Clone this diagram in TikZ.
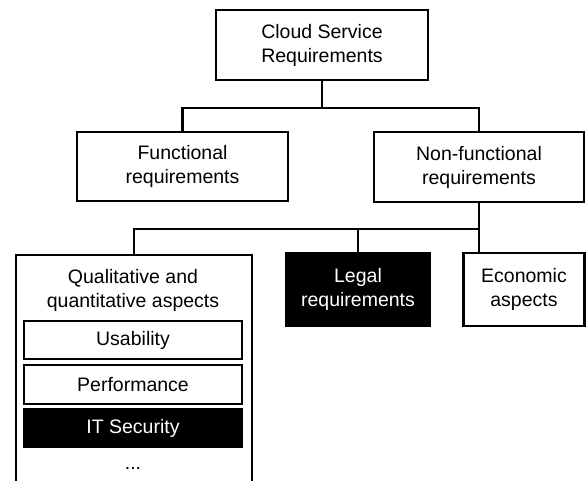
\documentclass[tikz,border=0pt]{standalone}
\usepackage{fontspec}
\setmainfont{Liberation Sans}
\begin{document}
\begin{tikzpicture}[x=1pt,y=-1pt,
  every node/.style={font=\fontsize{19.5}{24}\selectfont, align=center, inner sep=0pt},
  wbox/.style={draw=black, line width=2.2pt, fill=white},
  bbox/.style={draw=black, line width=2.2pt, fill=black, text=white},
  conn/.style={line width=2.2pt}]
\useasboundingbox (0,0) rectangle (586,481);
\fill[white] (0,0) rectangle (586,481);
\node[wbox, minimum width=212pt, minimum height=70pt] (cloud) at (322,45) {Cloud Service\\Requirements};
\node[wbox, minimum width=211pt, minimum height=69pt] (func) at (182.5,166.5) {Functional\\requirements};
\node[wbox, minimum width=210pt, minimum height=70pt] (nonf) at (479,167) {Non-functional\\requirements};
\node[wbox, anchor=north west, minimum width=236pt, minimum height=250pt] (qual) at (15,254) {};
\node (qualtext) at (133,290) {Qualitative and\\quantitative aspects};
\node[bbox, minimum width=144pt, minimum height=73pt] (legal) at (358,289.5) {Legal\\requirements};
\node[wbox, minimum width=121pt, minimum height=73pt] (econ) at (524,289.5) {Economic\\aspects};
\node[wbox, minimum width=218pt, minimum height=38pt] (usab) at (133,340) {Usability};
\node[wbox, minimum width=218pt, minimum height=39pt] (perf) at (133,384.5) {Performance};
\node[bbox, minimum width=218pt, minimum height=38pt] (itsec) at (133,428) {IT Security};
\node (dots) at (133,468) {...};
\coordinate (j1) at (322,108);
\coordinate (j2) at (479,229);
\draw[conn] (cloud.south) -- (j1);
\draw[conn] (j1) -| (func.north);
\draw[conn] (j1) -| (nonf.north);
\draw[conn] (nonf.south) -- (j2);
\draw[conn] (j2) -- (econ.north -| j2);
\draw[conn] (j2) -| (legal.north);
\draw[conn] (j2) -| (qual.north);
\end{tikzpicture}
\end{document}
